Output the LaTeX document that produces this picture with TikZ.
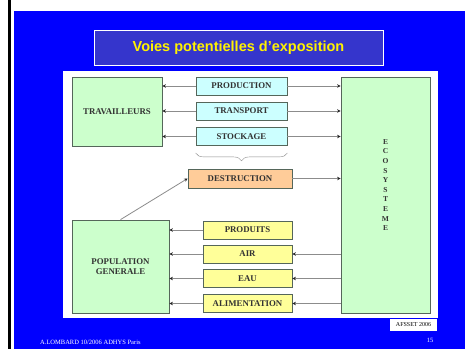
\documentclass[tikz,border=0pt]{standalone}
\usepackage{fontspec}
\setmainfont{Liberation Serif}
\setsansfont{Liberation Sans}
\usepackage{tikz}
\usetikzlibrary{arrows.meta,positioning,decorations.pathreplacing}
\definecolor{slideblue}{HTML}{0000FF}
\definecolor{titleblue}{HTML}{3535CC}
\definecolor{greenfill}{HTML}{CCFFCC}
\definecolor{cyanfill}{HTML}{CCFFFF}
\definecolor{orangefill}{HTML}{FFCC99}
\definecolor{yellowfill}{HTML}{FFFF99}
\definecolor{boxline}{HTML}{55665A}
\definecolor{linkgray}{HTML}{8C8C8C}
\definecolor{boxtext}{HTML}{333333}
\tikzset{%
	basebox/.style={rectangle, draw=boxline, thick, text=boxtext, font=\fontsize{8.8}{9.8}\selectfont\bfseries, inner sep=0pt},
	targetnode/.style={basebox, fill=greenfill, align=center},
	chainnode/.style={basebox, fill=cyanfill, minimum width=91pt, minimum height=18pt},
	wastenode/.style={basebox, fill=orangefill, minimum width=104pt, minimum height=19pt},
	mediumnode/.style={basebox, fill=yellowfill, minimum width=89pt, minimum height=18pt},
	tolink/.style={draw=linkgray, thick, -{Stealth[length=3.5pt,width=3.5pt,color=black!85]}},
	groupbrace/.style={draw=linkgray, decorate, decoration={brace, amplitude=8pt, mirror}}}

\begin{document}
\begin{tikzpicture}[x=1pt, y=-1pt]
		\useasboundingbox (0,0) rectangle (465,349);
		\fill[white] (0,0) rectangle (465,349);
		\fill[black] (8,0) rectangle (11,349);
		\fill[slideblue] (13.5,11) rectangle (465,349);
		\fill[white] (63,71) rectangle (438,318);
		
		\node[draw=white, fill=titleblue, minimum width=289pt, minimum height=35pt, text=yellow, font=\sffamily\bfseries\fontsize{14.5}{16}\selectfont] (title) at (238.5,47.5) {Voies potentielles d’exposition};
		
		\node[targetnode, minimum width=90pt, minimum height=69pt] (trav) at (117,111.5) {TRAVAILLEURS};
		\node[targetnode, minimum width=97pt, minimum height=93pt] (pop) at (120.5,266.5) {POPULATION\\GENERALE};
		\node[targetnode, minimum width=89pt, minimum height=236pt] (eco) at (385.5,195) {};
		\node[text=boxtext, font=\fontsize{7.5}{9.6}\selectfont\bfseries, align=center] (ecoletters) at (385.5,185) {E\\C\\O\\S\\Y\\S\\T\\E\\M\\E};
		
		\node[chainnode] (prod) at (241.5,86) {PRODUCTION};
		\node[chainnode] (trans) at (241.5,111) {TRANSPORT};
		\node[chainnode] (stock) at (241.5,136.5) {STOCKAGE};
		\node[wastenode] (destr) at (240,178.5) {DESTRUCTION};
		
		\node[mediumnode] (produits) at (247.5,230) {PRODUITS};
		\node[mediumnode] (air) at (247.5,254) {AIR};
		\node[mediumnode] (eau) at (247.5,278.5) {EAU};
		\node[mediumnode] (alim) at (247.5,303.5) {ALIMENTATION};
		
		\path[groupbrace] ([yshift=-7pt]stock.south west) -- ([yshift=-7pt]stock.south east);
		
		\foreach \src in {prod, trans, stock} {
			\draw[tolink] (\src.west) -- (\src.west -| trav.east);
			\draw[tolink] (\src.east) -- (\src.east -| eco.west);
		}
		\draw[tolink] (destr.east) -- (destr.east -| eco.west);
		\draw[tolink] (pop.north) -- (destr.west);
		
		\foreach \src in {produits, air, eau, alim}
			\draw[tolink] (\src.west) -- (\src.west -| pop.east);
		\foreach \dst in {air, eau, alim}
			\draw[tolink] (\dst.east -| eco.west) -- (\dst.east);
		
		\node[fill=white, minimum width=47pt, minimum height=12pt, inner sep=0pt, font=\fontsize{6}{7}\selectfont] (source) at (413.5,325) {AFSSET 2006};
		\node[anchor=west, text=white, inner sep=0pt, font=\fontsize{6.5}{7}\selectfont] (footer) at (40,342) {A.LOMBARD 10/2006 ADHYS Paris};
		\node[text=white, inner sep=0pt, font=\fontsize{6.5}{7}\selectfont] (pagenum) at (430,340) {15};
	\end{tikzpicture}
\end{document}
